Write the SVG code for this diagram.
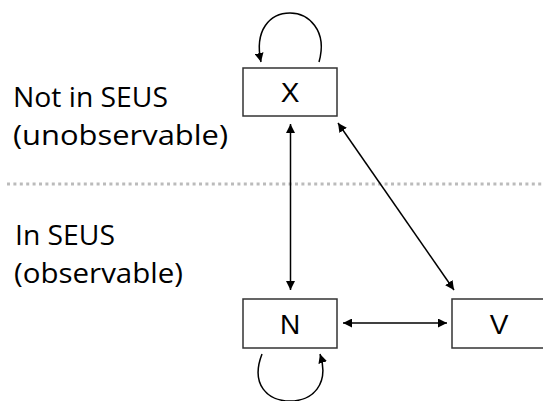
<svg xmlns="http://www.w3.org/2000/svg" width="543" height="401" viewBox="0 0 543 401">
<style>
.box{fill:#fff;stroke:#333;stroke-width:1.5}
.lbl{font-family:"Liberation Sans",Arial,sans-serif;font-size:28px;fill:#000;text-anchor:middle}
.side{font-family:"Open Sans","Noto Sans",sans-serif;font-size:27px;fill:#000}
.edge{fill:none;stroke:#000;stroke-width:1.5}
</style>
<defs>
<marker id="ah" viewBox="0 0 10 10" refX="10" refY="5" markerWidth="6" markerHeight="6" orient="auto-start-reverse" markerUnits="strokeWidth">
<path d="M0,0 L10,5 L0,10 z" fill="#000"/>
</marker>
</defs>
<line x1="7" y1="184" x2="543" y2="184" stroke="#bbb" stroke-width="3" stroke-dasharray="3 3.4"/>
<text class="side" x="13" y="107" textLength="155" lengthAdjust="spacingAndGlyphs">Not in SEUS</text>
<text class="side" x="13" y="145" textLength="215" lengthAdjust="spacingAndGlyphs">(unobservable)</text>
<text class="side" x="15" y="245" textLength="100" lengthAdjust="spacingAndGlyphs">In SEUS</text>
<text class="side" x="14" y="283" textLength="169" lengthAdjust="spacingAndGlyphs">(observable)</text>
<g id="connectors">
<line class="edge" x1="290.5" y1="124" x2="290.5" y2="290" marker-start="url(#ah)" marker-end="url(#ah)"/>
<line class="edge" x1="338" y1="123" x2="454" y2="290" marker-start="url(#ah)" marker-end="url(#ah)"/>
<line class="edge" x1="343" y1="323" x2="447" y2="323" marker-start="url(#ah)" marker-end="url(#ah)"/>
<path class="edge" d="M319,62 C328,30 308,13 290,13 C270,13 254,30 261,62" marker-end="url(#ah)"/>
<path class="edge" d="M262,354 C250,385 268,401 290,401 C312,401 330,385 320,354" marker-end="url(#ah)"/>
</g>
<g id="node-X"><rect class="box" x="243" y="68" width="94" height="48"/><text class="lbl" x="290" y="102">X</text></g>
<g id="node-N"><rect class="box" x="243" y="299" width="94" height="49"/><text class="lbl" x="290" y="334">N</text></g>
<g id="node-V"><rect class="box" x="452" y="299" width="94" height="49"/><text class="lbl" x="499" y="334">V</text></g>
</svg>
